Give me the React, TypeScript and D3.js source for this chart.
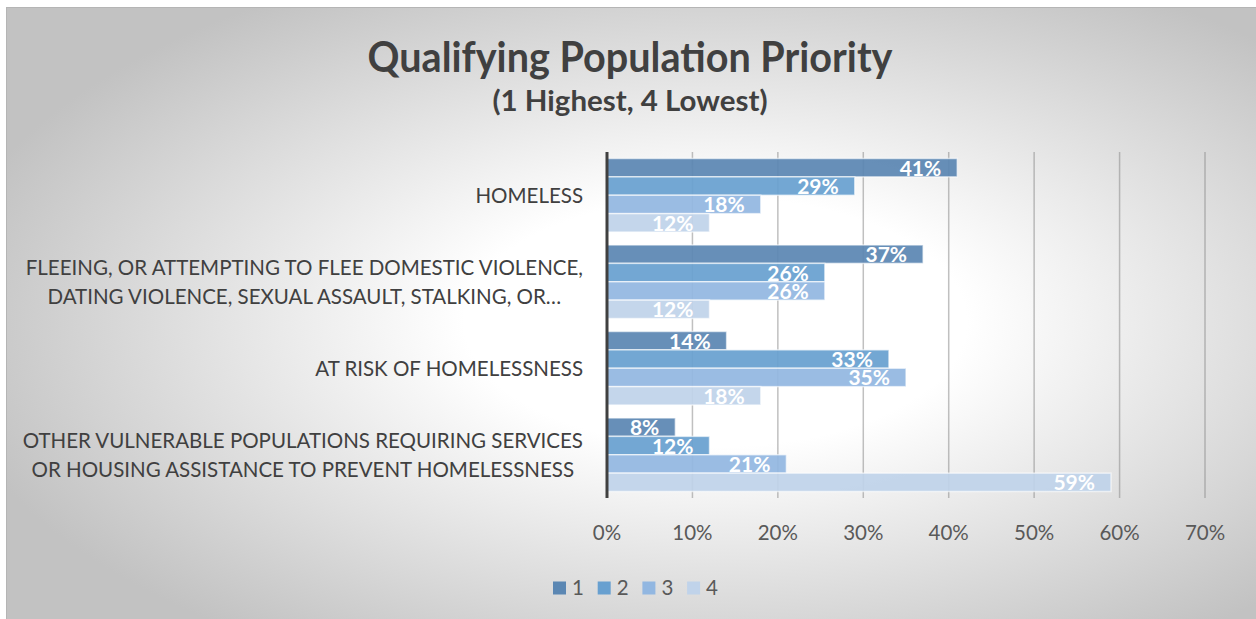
import React, { useEffect, useRef } from "react";
import * as d3 from "d3";

const categories = [
  ["HOMELESS"],
  ["FLEEING, OR ATTEMPTING TO FLEE DOMESTIC VIOLENCE,", "DATING VIOLENCE, SEXUAL ASSAULT, STALKING, OR…"],
  ["AT RISK OF HOMELESSNESS"],
  ["OTHER VULNERABLE POPULATIONS REQUIRING SERVICES", "OR HOUSING ASSISTANCE TO PREVENT HOMELESSNESS"],
];
const seriesNames = ["1", "2", "3", "4"];
const homeless = [41, 29, 18, 12];
const fleeing = [37, 25.5, 25.5, 12];
const atRisk = [14, 33, 35, 18];
const otherVulnerable = [8, 12, 21, 59];
const xTicks = [0, 10, 20, 30, 40, 50, 60, 70];
const colors = ["#5b87b3", "#68a0d0", "#92b7e1", "#c0d3ea"];

const width = 1256,
  height = 619;
const font = "Lato, 'Open Sans', sans-serif";

const App = () => {
  const ref = useRef<SVGSVGElement>(null);

  useEffect(() => {
    const svg = d3.select(ref.current);
    svg.selectAll("*").remove();
    const rows = [homeless, fleeing, atRisk, otherVulnerable];

    const defs = svg.append("defs");
    const grad = defs
      .append("radialGradient")
      .attr("id", "bg")
      .attr("cx", "0.56")
      .attr("cy", "0.5")
      .attr("r", "0.62");
    grad.append("stop").attr("offset", "0").attr("stop-color", "#ffffff");
    grad.append("stop").attr("offset", "0.32").attr("stop-color", "#ffffff");
    grad.append("stop").attr("offset", "1").attr("stop-color", "#c2c2c2");

    svg
      .append("rect")
      .attr("x", 6.5)
      .attr("y", 7.5)
      .attr("width", width + 10)
      .attr("height", height + 10)
      .attr("fill", "url(#bg)")
      .attr("stroke", "#b5b5b5");

    const x = d3.scaleLinear().domain([0, 70]).range([607, 1205]);
    const y = d3
      .scaleBand<number>()
      .domain(d3.range(categories.length))
      .range([152, 498])
      .paddingInner(0.15)
      .paddingOuter(0.075);
    const ySub = d3
      .scaleBand<number>()
      .domain(d3.range(seriesNames.length))
      .range([0, y.bandwidth()]);

    // gridlines
    svg
      .append("g")
      .selectAll("line")
      .data(xTicks.slice(1))
      .enter()
      .append("line")
      .attr("x1", (d) => x(d))
      .attr("x2", (d) => x(d))
      .attr("y1", 152)
      .attr("y2", 498)
      .attr("stroke", "#8c8c8c")
      .attr("stroke-opacity", 0.55)
      .attr("stroke-width", 1.5);

    // bars
    const groups = svg
      .append("g")
      .selectAll("g")
      .data(rows)
      .enter()
      .append("g")
      .attr("transform", (_, i) => "translate(0," + y(i) + ")");

    groups
      .selectAll("rect")
      .data((d) => d)
      .enter()
      .append("rect")
      .attr("x", x(0))
      .attr("y", (_, j) => ySub(j)!)
      .attr("width", (d) => x(d) - x(0))
      .attr("height", ySub.bandwidth())
      .attr("fill", (_, j) => colors[j])
      .attr("fill-opacity", 0.93)
      .attr("stroke", "#ffffff")
      .attr("stroke-opacity", 0.6)
      .attr("stroke-width", 1.5);

    groups
      .selectAll("text")
      .data((d) => d)
      .enter()
      .append("text")
      .attr("x", (d) => x(d) - 16)
      .attr("y", (_, j) => ySub(j)! + ySub.bandwidth() / 2)
      .attr("dy", "0.38em")
      .attr("text-anchor", "end")
      .attr("fill", "#ffffff")
      .attr("font-family", font)
      .attr("font-weight", "bold")
      .attr("font-size", 21)
      .text((d) => Math.round(d) + "%");

    // axis line
    svg
      .append("line")
      .attr("x1", x(0))
      .attr("x2", x(0))
      .attr("y1", 152)
      .attr("y2", 498)
      .attr("stroke", "#404040")
      .attr("stroke-width", 3);

    // category labels: lines centred within a block that is right-aligned to the axis
    const labels = svg
      .append("g")
      .selectAll("text")
      .data(categories)
      .enter()
      .append("text")
      .attr("text-anchor", "middle")
      .attr("fill", "#404040")
      .attr("font-family", font)
      .attr("font-size", 20.5);
    labels
      .selectAll("tspan")
      .data((d, i) => d.map((line, k) => ({ line, k, n: d.length, i })))
      .enter()
      .append("tspan")
      .attr(
        "y",
        (t) => y(t.i)! + y.bandwidth() / 2 + (t.k - (t.n - 1) / 2) * 29
      )
      .attr("dy", "0.36em")
      .text((t) => t.line);
    labels.each(function () {
      const spans = d3.select(this).selectAll<SVGTSpanElement, unknown>("tspan");
      let maxW = 0;
      spans.each(function () {
        maxW = Math.max(maxW, this.getComputedTextLength());
      });
      spans.attr("x", 583 - maxW / 2);
    });

    // x axis tick labels
    svg
      .append("g")
      .selectAll("text")
      .data(xTicks)
      .enter()
      .append("text")
      .attr("x", (d) => x(d))
      .attr("y", 533)
      .attr("dy", "0.36em")
      .attr("text-anchor", "middle")
      .attr("fill", "#595959")
      .attr("font-family", font)
      .attr("font-size", 20.5)
      .text((d) => d + "%");

    // title
    svg
      .append("text")
      .attr("x", 630)
      .attr("y", 72)
      .attr("text-anchor", "middle")
      .attr("fill", "#404040")
      .attr("font-family", font)
      .attr("font-weight", "bold")
      .attr("font-size", 42)
      .attr("textLength", 525)
      .attr("lengthAdjust", "spacingAndGlyphs")
      .text("Qualifying Population Priority");
    svg
      .append("text")
      .attr("x", 630)
      .attr("y", 111)
      .attr("text-anchor", "middle")
      .attr("fill", "#404040")
      .attr("font-family", font)
      .attr("font-weight", "bold")
      .attr("font-size", 28)
      .attr("textLength", 275)
      .attr("lengthAdjust", "spacingAndGlyphs")
      .text("(1 Highest, 4 Lowest)");

    // legend
    const legend = svg
      .append("g")
      .selectAll("g")
      .data(seriesNames)
      .enter()
      .append("g")
      .attr("transform", (_, i) => "translate(" + (553 + i * 44.7) + ",588)");
    legend
      .append("rect")
      .attr("x", 0)
      .attr("y", -6.5)
      .attr("width", 13)
      .attr("height", 13)
      .attr("fill", (_, i) => colors[i]);
    legend
      .append("text")
      .attr("x", 19)
      .attr("y", 0)
      .attr("dy", "0.36em")
      .attr("fill", "#595959")
      .attr("font-family", font)
      .attr("font-size", 20.5)
      .text((d) => d);
  }, []);

  return (
    <div style={{ position: "absolute", left: 0, top: 0 }}>
      <svg ref={ref} width={width} height={height} style={{ display: "block" }} />
    </div>
  );
};

export default App;
